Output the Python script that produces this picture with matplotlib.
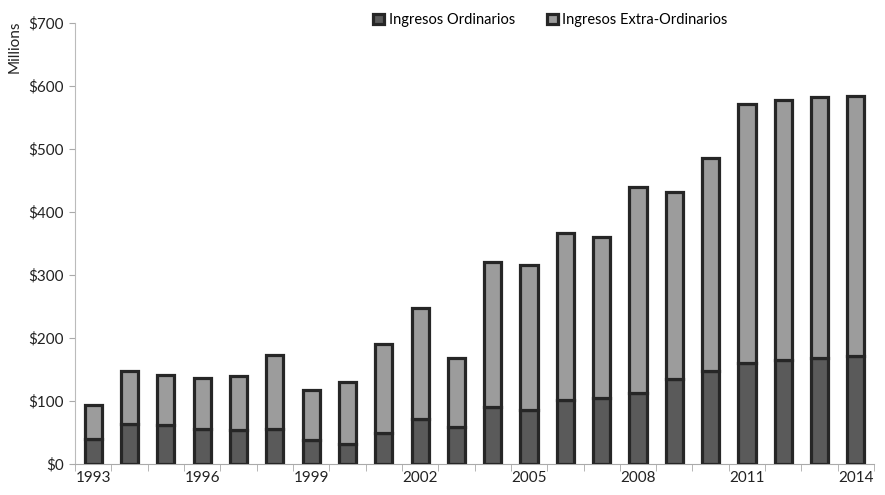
import matplotlib.pyplot as plt
import numpy as np

years = list(range(1993, 2015))
ordinarios = [40, 64, 62, 55, 54, 55, 38, 32, 49, 71, 58, 90, 86, 101, 104, 112, 135, 147, 160, 165, 169, 172]
totales = [94, 147, 142, 137, 140, 173, 117, 130, 191, 248, 168, 320, 316, 366, 360, 440, 431, 485, 571, 578, 582, 584]
extra = [t - o for t, o in zip(totales, ordinarios)]

plt.rcParams['font.family'] = ['Lato', 'DejaVu Sans']

fig = plt.figure(figsize=(8.85, 4.95), dpi=100, facecolor='white')
ax = fig.add_axes([0.0847, 0.0626, 0.903, 0.891])

x = np.arange(len(years))
w = 0.47
edge = '#262626'
ax.bar(x, ordinarios, width=w, color='#5a5a5a', edgecolor=edge, linewidth=2.3,
       label='Ingresos Ordinarios', zorder=3)
ax.bar(x, extra, width=w, bottom=ordinarios, color='#9c9c9c', edgecolor=edge,
       linewidth=2.3, label='Ingresos Extra-Ordinarios', zorder=3)

ax.set_xlim(-0.5, len(years) - 0.5)
ax.set_ylim(0, 700)
ax.set_yticks(range(0, 701, 100))
ax.set_yticklabels(['$%d' % v for v in range(0, 701, 100)], fontsize=11, color='#222222')

# year labels every 3 years, tick marks at category boundaries
ax.set_xticks(x[::3])
ax.set_xticklabels([str(y) for y in years[::3]], fontsize=11, color='#222222')
ax.tick_params(axis='x', length=0, pad=5)
ax.set_xticks(np.arange(-0.5, len(years), 1), minor=True)
ax.tick_params(axis='x', which='minor', length=5, color='#aaaaaa', direction='out')
ax.tick_params(axis='y', length=4, color='#aaaaaa', pad=4)

for s in ['top', 'right']:
    ax.spines[s].set_visible(False)
ax.spines['left'].set_color('#bbbbbb')
ax.spines['bottom'].set_color('#aaaaaa')

fig.text(0.016, 0.905, 'Millions', rotation=90, fontsize=11, ha='center', va='center',
         color='#222222')

fig.legend(loc='upper center', bbox_to_anchor=(0.622, 1.0), ncol=2, frameon=False,
           fontsize=10.5, handlelength=0.75, handleheight=0.75, handletextpad=0.3,
           columnspacing=2.2)

fig.savefig('out.png', dpi=100, facecolor='white')
plt.close()
